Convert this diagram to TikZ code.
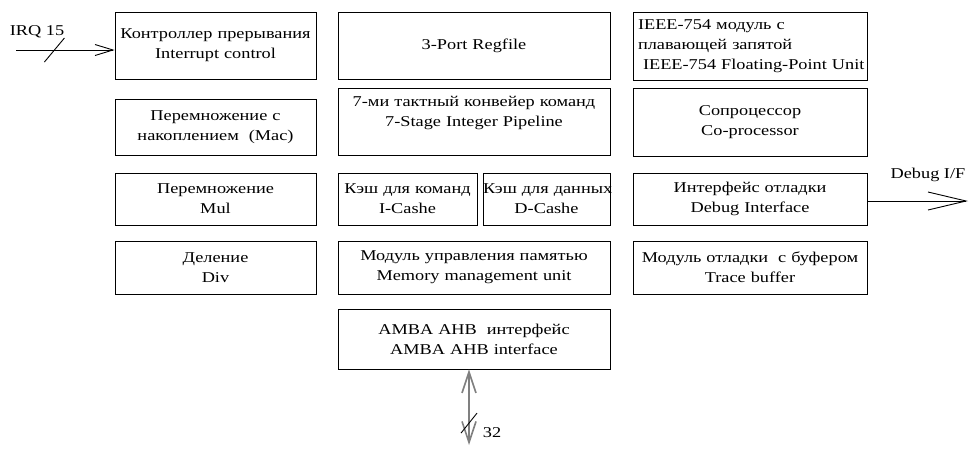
\documentclass[tikz,border=0pt]{standalone}
\usepackage{fontspec}
\setmainfont{Liberation Serif}[FakeStretch=1.22]
\usetikzlibrary{arrows.meta}

\begin{document}
\begin{tikzpicture}[x=1pt,y=-1pt,font=\fontsize{15pt}{20pt}\selectfont,
  blk/.style 2 args={draw,line width=0.9pt,text width=#1,minimum height=#2,inner sep=0pt,align=center},
  sig/.style={line width=0.9pt,-{Straight Barb[length=18pt,width=11pt]}},
  dbgsig/.style={line width=0.9pt,-{Straight Barb[length=38pt,width=18pt]}},
  bus/.style={line width=1.6pt,gray,{Straight Barb[length=21pt,width=14pt]}-{Straight Barb[length=21pt,width=14pt]}},
  tick/.style={line width=0.9pt}]
\useasboundingbox (0,0) rectangle (970,475);

  \node[blk={201pt}{67pt}] (intc) at (215.5,45.5) {Контроллер прерывания\\Interrupt control};
  \node[blk={201pt}{56pt}] (mac)  at (215.5,127)  {Перемножение с\\накоплением\ \ (Mac)};
  \node[blk={201pt}{52pt}] (mul)  at (215.5,199)  {Перемножение\\Mul};
  \node[blk={201pt}{53pt}] (div)  at (215.5,267.5) {Деление\\Div};

  \node[blk={272pt}{67pt}] (regf) at (474,45.5)  {3-Port Regfile};
  \node[blk={272pt}{67pt}] (pipe) at (474,121.5) {7-ми тактный конвейер команд\\7-Stage Integer Pipeline\\ \mbox{}};
  \node[blk={139pt}{52pt}] (icache) at (407.5,199) {Кэш для команд\\I-Cashe};
  \node[blk={127pt}{52pt}] (dcache) at (546.5,199) {\mbox{Кэш для данных}\\D-Cashe};
  \node[blk={272pt}{53pt}] (mmu)  at (474,267.5) {Модуль управления памятью\\Memory management unit};
  \node[blk={272pt}{60pt}] (amba) at (474,339)   {AMBA AHB\ \ интерфейс\\AMBA AHB interface};

  \node[blk={224pt}{68pt},align=left,inner xsep=5pt] (fpu) at (750,46) {IEEE-754 модуль с\\плавающей запятой\\\mbox{\ IEEE-754 Floating-Point Unit}};
  \node[blk={234pt}{68pt}] (cop)  at (750,122)   {Сопроцессор\\Co-processor};
  \node[blk={234pt}{52pt}] (dbg)  at (750,199)   {Интерфейс отладки\\Debug Interface};
  \node[blk={234pt}{53pt}] (trc)  at (750,267.5) {Модуль отладки\ \ с буфером\\Trace buffer};

  \coordinate (irqin) at (16,50);
  \draw[sig] (irqin) -- (irqin -| intc.west) coordinate[pos=0.39] (irqs);
  \draw[tick] ([shift={(-10,12)}]irqs) -- ([shift={(10,-12)}]irqs);
  \node (irql) at (37,32) {IRQ 15};

  \coordinate (dbgout) at (968,201);
  \draw[dbgsig] (dbgout -| dbg.east) -- (dbgout);
  \node (dbgl) at (928,175) {Debug I/F};

  \coordinate (busend) at (469,445);
  \draw[bus] (busend |- amba.south) -- (busend) coordinate[pos=0.71] (buss);
  \draw[tick] ([shift={(-8,10)}]buss) -- ([shift={(8,-10)}]buss);
  \node (busl) at (492,433) {32};
\end{tikzpicture}
\end{document}
